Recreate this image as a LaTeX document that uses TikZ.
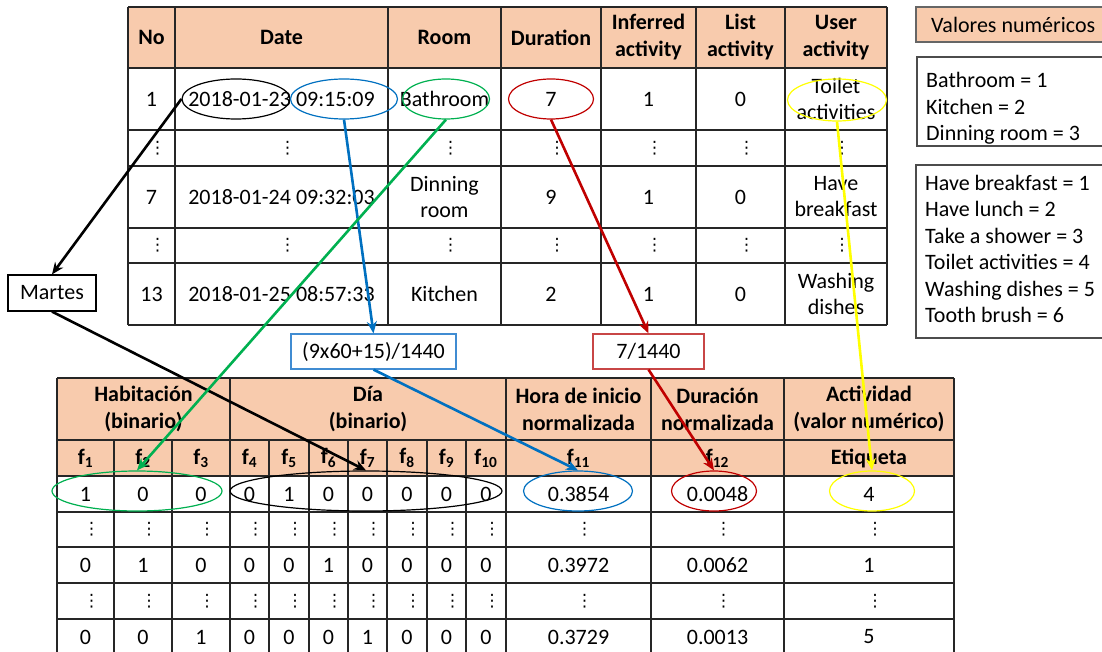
\documentclass[tikz,border=0pt]{standalone}
\usepackage{fontspec}
\setmainfont{Carlito}
\newfontfamily\dvfont{DejaVu Sans}
\usepackage{xcolor}
\usepackage{tikz}
\usetikzlibrary{shapes.geometric,arrows.meta,positioning}

\definecolor{peach}{RGB}{248,203,173}
\definecolor{lblue}{RGB}{0,112,192}
\definecolor{lbluebox}{RGB}{64,140,210}
\definecolor{lred}{RGB}{192,0,0}
\definecolor{lredbox}{RGB}{200,70,70}
\definecolor{lgreen}{RGB}{0,176,80}
\definecolor{lyellow}{RGB}{255,255,0}

\tikzset{
    tabline/.style={line width=1.4pt, black!85},
    cell/.style={inner sep=0pt, align=center},
    dots/.style={inner sep=0pt, xshift=6pt, font=\fontsize{17}{17}\dvfont},
    hd/.style={cell, font=\fontsize{22}{27}\selectfont\bfseries},
    oval/.style={ellipse, draw=#1, line width=1.2pt, inner sep=0pt},
    link/.style={line width=2.6pt, draw=#1, -{Stealth[length=12pt,width=10pt]}},
    fbox/.style={draw=#1, line width=1.2pt, inner sep=0pt, minimum height=35pt}
}

\begin{document}
\begin{tikzpicture}[x=1pt, y=-1pt, font=\fontsize{22}{26}\selectfont]
    \useasboundingbox (0,0) rectangle (1102,652);

    % upper table
    \fill[peach] (128,7) rectangle (887,68);
    \foreach \y in {7,68,130,166,228,263,325}
        \draw[tabline] (128,\y) -- (887,\y);
    \foreach \x in {128,175,388,501,601,696,785,887}
        \draw[tabline] (\x,7) -- (\x,325);
    \foreach \x/\label [count=\i] in {151.5/No, 281.5/Date, 444.5/Room, 551/Duration, 648.5/Inferred\\activity, 740.5/List\\activity, 836/User\\activity}
        \node[hd] (th\i) at (\x,37.5) {\label};
    \foreach \x/\label [count=\i] in {151.5/1, 281.5/2018-01-23 09:15:09, 444.5/Bathroom, 551/7, 648.5/1, 740.5/0, 836/Toilet\\activities}
        \node[cell] (ta\i) at (\x,99) {\label};
    \foreach \x/\label [count=\i] in {151.5/7, 281.5/2018-01-24 09:32:03, 444.5/Dinning\\room, 551/9, 648.5/1, 740.5/0, 836/Have\\breakfast}
        \node[cell] (tc\i) at (\x,197) {\label};
    \foreach \x/\label [count=\i] in {151.5/13, 281.5/2018-01-25 08:57:33, 444.5/Kitchen, 551/2, 648.5/1, 740.5/0, 836/Washing\\dishes}
        \node[cell] (te\i) at (\x,294) {\label};
    \foreach \y/\r in {148/b, 245.5/d}
        \foreach \x [count=\i] in {151.5,281.5,444.5,551,648.5,740.5,836}
            \node[dots] (t\r\i) at (\x,\y) {⋮};

    % numeric values
    \draw[line width=1.2pt, black!60, fill=peach] (916,7) rectangle (1115,42);
    \node[anchor=west, inner sep=0pt] (valores) at (931,24.5) {Valores numéricos};
    \draw[line width=1.2pt, black!70] (917,57) rectangle (1115,146);
    \node[anchor=west, align=left, inner sep=0pt, font=\fontsize{22}{26.5}\selectfont] (rooms) at (926,108.5)
        {Bathroom = 1\\Kitchen = 2\\Dinning room = 3};
    \draw[line width=1.2pt, black!70] (916,165) rectangle (1115,338);
    \node[anchor=west, align=left, inner sep=0pt, font=\fontsize{22}{26.4}\selectfont] (acts) at (925,249)
        {Have breakfast = 1\\Have lunch = 2\\Take a shower = 3\\Toilet activities = 4\\Washing dishes = 5\\Tooth brush = 6};

    % lower table
    \fill[peach] (57,378) rectangle (954,476);
    \foreach \y in {378,440,476,512,547,583,619}
        \draw[tabline] (57,\y) -- (954,\y);
    \foreach \x in {57,230,506,651,784,954}
        \draw[tabline] (\x,378) -- (\x,660);
    \foreach \x in {114,172,269,309,348,387,427,466}
        \draw[tabline] (\x,440) -- (\x,660);
    \foreach \x/\label [count=\i] in {143.5/Habitación\\(binario), 368/Día\\(binario), 578.5/Hora de inicio\\normalizada, 717.5/Duración\\normalizada, 869/Actividad\\(valor numérico)}
        \node[hd] (bh\i) at (\x,409) {\label};
    \foreach \x/\n [count=\i] in {85.5/1, 143/2, 201/3, 249.5/4, 289/5, 328.5/6, 367.5/7, 407/8, 446.5/9, 486/10, 578.5/11, 717.5/12}
        \node[hd] (bf\i) at (\x,458) {f\textsubscript{\n}};
    \node[hd] (bf13) at (869,458) {Etiqueta};
    \foreach \x/\label [count=\i] in {85.5/1, 143/0, 201/0, 249.5/0, 289/1, 328.5/0, 367.5/0, 407/0, 446.5/0, 486/0, 578.5/0.3854, 717.5/0.0048, 869/4}
        \node[cell] (ba\i) at (\x,494) {\label};
    \foreach \x/\label [count=\i] in {85.5/0, 143/1, 201/0, 249.5/0, 289/0, 328.5/1, 367.5/0, 407/0, 446.5/0, 486/0, 578.5/0.3972, 717.5/0.0062, 869/1}
        \node[cell] (bc\i) at (\x,565) {\label};
    \foreach \x/\label [count=\i] in {85.5/0, 143/0, 201/1, 249.5/0, 289/0, 328.5/0, 367.5/1, 407/0, 446.5/0, 486/0, 578.5/0.3729, 717.5/0.0013, 869/5}
        \node[cell] (be\i) at (\x,637) {\label};
    \foreach \y/\r in {529.5/b, 601/d}
        \foreach \x [count=\i] in {85.5,143,201,249.5,289,328.5,367.5,407,446.5,486,578.5,717.5,869}
            \node[dots] (b\r\i) at (\x,\y) {⋮};

    % marks
    \node[oval=black, minimum width=108pt, minimum height=40pt] (ovDate) at (236,99) {};
    \node[oval=lblue, minimum width=107pt, minimum height=40pt] (ovHour) at (344,99) {};
    \node[oval=lgreen, minimum width=87pt, minimum height=40pt] (ovRoom) at (446,99) {};
    \node[oval=lred, minimum width=85pt, minimum height=40pt] (ovDur) at (551,99) {};
    \node[oval=lyellow, minimum width=99pt, minimum height=42pt] (ovAct) at (837,100) {};
    \node[oval=lgreen, minimum width=170pt, minimum height=40pt] (ovHab) at (137,491) {};
    \node[oval=black, minimum width=272pt, minimum height=40pt] (ovDia) at (366,491) {};
    \node[oval=lblue, minimum width=109pt, minimum height=40pt] (ovF11) at (578,491) {};
    \node[oval=lred, minimum width=85pt, minimum height=40pt] (ovF12) at (714,491) {};
    \node[oval=lyellow, minimum width=85pt, minimum height=40pt] (ovEtq) at (872,491) {};

    % intermediate boxes
    \node[fbox=black, minimum width=88pt, minimum height=36pt] (martes) at (52,293) {Martes};
    \node[fbox=lbluebox, minimum width=165pt] (hourbox) at (373.5,351.5) {(9x60+15)/1440};
    \node[fbox=lredbox, minimum width=111pt] (durbox) at (648.5,351.5) {7/1440};

    % arrows
    \draw[link=black] (ovDate.west) -- (martes.north);
    \draw[link=black] (martes.south) -- (ovDia.north);
    \draw[link=lblue] (ovHour.south) -- (hourbox.north);
    \draw[link=lblue] (hourbox.south) -- (ovF11.north);
    \draw[link=lgreen] (ovRoom.south) -- (ovHab.north);
    \draw[link=lred] (ovDur.south) -- (durbox.north);
    \draw[link=lred] (durbox.south) -- (ovF12.north);
    \draw[link=lyellow] (ovAct.south) -- (ovEtq.north);
\end{tikzpicture}
\end{document}
